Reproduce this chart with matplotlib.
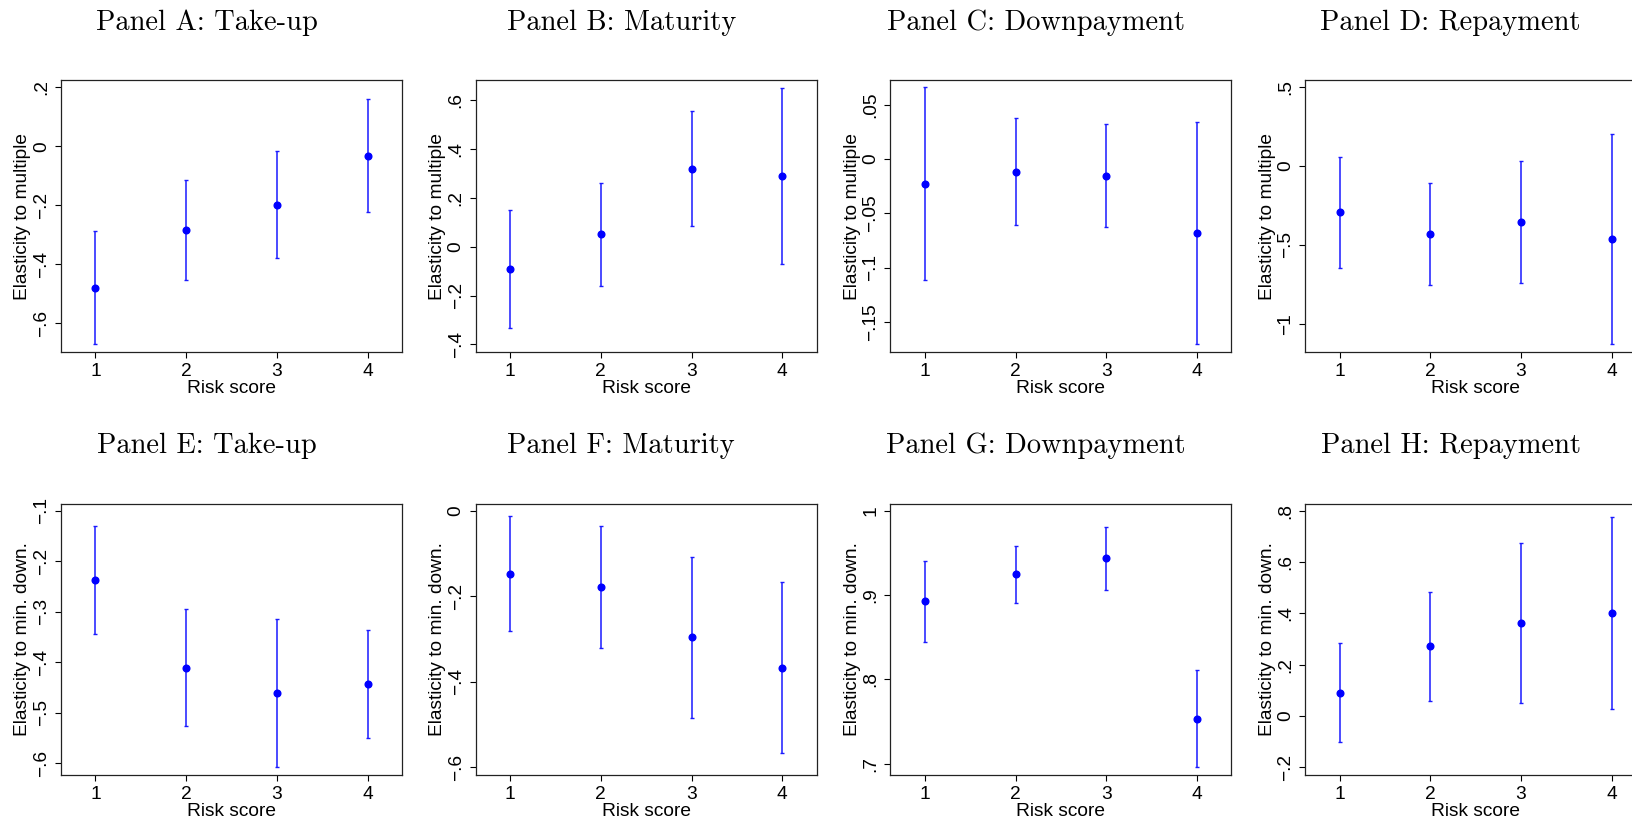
import matplotlib
matplotlib.use("Agg")
import matplotlib.pyplot as plt
from matplotlib.ticker import FuncFormatter

plt.rcParams['font.family'] = ['Liberation Sans', 'DejaVu Sans']

W, H = 1632, 819

risk = [1, 2, 3, 4]

titles = ["Panel A: Take-up", "Panel B: Maturity", "Panel C: Downpayment", "Panel D: Repayment",
          "Panel E: Take-up", "Panel F: Maturity", "Panel G: Downpayment", "Panel H: Repayment"]
ylabels = ["Elasticity to multiple"] * 4 + ["Elasticity to min. down."] * 4

# point estimates and 95% CI bounds per panel
est = [
    [-0.479, -0.282, -0.198, -0.033],
    [-0.093, 0.052, 0.319, 0.289],
    [-0.0230, -0.0117, -0.0156, -0.0684],
    [-0.294, -0.429, -0.358, -0.465],
    [-0.237, -0.411, -0.461, -0.444],
    [-0.147, -0.178, -0.296, -0.367],
    [0.893, 0.9245, 0.9435, 0.7534],
    [0.090, 0.271, 0.362, 0.401],
]
ci_hi = [
    [-0.288, -0.113, -0.016, 0.159],
    [0.150, 0.262, 0.555, 0.649],
    [0.0660, 0.0377, 0.0319, 0.0337],
    [0.059, -0.108, 0.030, 0.201],
    [-0.130, -0.294, -0.314, -0.336],
    [-0.011, -0.035, -0.107, -0.167],
    [0.941, 0.9585, 0.981, 0.8107],
    [0.2835, 0.485, 0.676, 0.776],
]
ci_lo = [
    [-0.671, -0.452, -0.380, -0.224],
    [-0.334, -0.160, 0.085, -0.070],
    [-0.1117, -0.0607, -0.0623, -0.1706],
    [-0.647, -0.753, -0.743, -1.129],
    [-0.344, -0.527, -0.608, -0.551],
    [-0.282, -0.321, -0.486, -0.567],
    [0.845, 0.891, 0.906, 0.6957],
    [-0.104, 0.056, 0.048, 0.026],
]
yticks = [
    [-0.6, -0.4, -0.2, 0, 0.2],
    [-0.4, -0.2, 0, 0.2, 0.4, 0.6],
    [-0.15, -0.1, -0.05, 0, 0.05],
    [-1, -0.5, 0, 0.5],
    [-0.6, -0.5, -0.4, -0.3, -0.2, -0.1],
    [-0.6, -0.4, -0.2, 0],
    [0.7, 0.8, 0.9, 1],
    [-0.2, 0, 0.2, 0.4, 0.6, 0.8],
]
ylims = [
    (-0.697, 0.225), (-0.431, 0.682), (-0.1776, 0.0727), (-1.18, 0.5465),
    (-0.623, -0.0855), (-0.618, 0.0172), (0.687, 1.0087), (-0.230, 0.8286),
]


def stata_fmt(v, pos=None):
    # Stata style: no leading zero, real minus sign
    if abs(v) < 1e-12:
        return "0"
    s = "{0:g}".format(round(v, 6))
    s = s.replace("0.", ".")
    return s.replace("-", "\u2212")


fig = plt.figure(figsize=(W / 100, H / 100), dpi=100)

fs = 13.8
cell = 414.7
for k in range(8):
    row, col = divmod(k, 4)
    left = 61 + cell * col
    if row == 0:
        top, bottom = 80, 352
    else:
        top, bottom = 503.5, 774.7
    ax = fig.add_axes([left / W, 1 - bottom / H, 341 / W, (bottom - top) / H])

    ax.errorbar(risk, est[k],
                yerr=[[e - l for e, l in zip(est[k], ci_lo[k])],
                      [h - e for e, h in zip(est[k], ci_hi[k])]],
                fmt='o', color='#0000ff', ecolor='#1a1aff', elinewidth=1.1,
                capsize=1.4, capthick=1.0, markersize=4.8)

    ax.set_xlim(0.62, 4.38)
    ax.set_ylim(*ylims[k])
    ax.set_xticks(risk)
    ax.set_yticks(yticks[k])
    ax.yaxis.set_major_formatter(FuncFormatter(stata_fmt))
    ax.tick_params(axis='y', labelrotation=90, length=4.5, width=0.8, pad=3.5, labelsize=fs)
    ax.tick_params(axis='x', length=4.5, width=0.8, pad=3.5, labelsize=fs)
    for lab in ax.get_yticklabels():
        lab.set_va('center')
    for sp in ax.spines.values():
        sp.set_linewidth(0.9)
        sp.set_color('#222222')
    ax.set_xlabel("Risk score", fontsize=fs, labelpad=0)
    ax.set_ylabel(ylabels[k], fontsize=fs, labelpad=1)

    ty = 29.5 if row == 0 else 452.7
    fig.text((206.5 + cell * col) / W, 1 - ty / H, titles[k], ha='center', va='baseline',
             fontsize=20.5, family='cmr10')

fig.savefig("out.png", dpi=100)
